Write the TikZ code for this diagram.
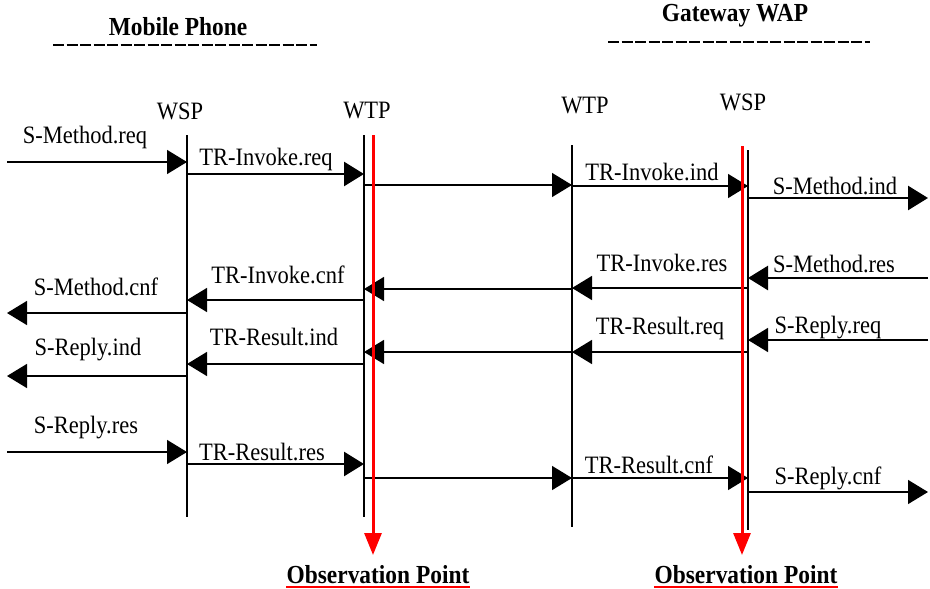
\documentclass[tikz,border=0pt]{standalone}
\usepackage{fontspec}
\setmainfont{Liberation Serif}[FakeStretch=0.9]
\usetikzlibrary{arrows.meta}

\tikzset{
  msg/.style={draw, line width=1.4pt, -{Triangle[length=20pt,width=24pt]}},
  bigmsg/.style={msg, line width=2.6pt},
  life/.style={draw, line width=1.4pt},
  obs/.style={draw=red, line width=3pt, -{Triangle[length=22pt,width=17pt]}},
  lbl/.style={font=\fontsize{25}{28}\selectfont, inner sep=0pt},
  ttl/.style={lbl, font=\fontsize{26}{30}\selectfont\bfseries},
  rule/.style={line width=2.6pt, dash pattern=on 11pt off 2.5pt},
}

\begin{document}
\begin{tikzpicture}[x=1pt,y=-1pt]
	\useasboundingbox (0,0) rectangle (930,589);
	%the two sides, with their rules
	\node[ttl] (mobile) at (178,27) {Mobile Phone};
	\node[ttl] (gateway) at (735,16) {Gateway WAP};
	\draw[rule] (53,45) -- (317,45);
	\draw[rule] (608,42) -- (870,42);
	%%layer names
	\node[lbl] (hmwsp) at (180,111) {WSP};
	\node[lbl] (hmwtp) at (367,111) {WTP};
	\node[lbl] (hgwtp) at (585,106) {WTP};
	\node[lbl] (hgwsp) at (743,102) {WSP};
	%% lifelines and the free ends left and right
	\coordinate (lft) at (7,0);\coordinate (rgt) at (928,0);
	\coordinate (mwsp) at (187,135);\coordinate (mwtp) at (364,135);
	\coordinate (gwtp) at (572,145);\coordinate (gwsp) at (748,150);
	\draw[life] (mwsp) -- ++(0,382);
	\draw[life, line width=2.4pt] (mwtp) -- ++(0,382);
	\draw[life] (gwtp) -- ++(0,382);
	\draw[life] (gwsp) -- ++(0,380);
	%% primitives between the layers
	\foreach \f/\t/\y/\s in {lft/mwsp/162/msg, mwsp/mwtp/174/bigmsg, mwtp/gwtp/185/msg,
		gwtp/gwsp/186/msg, gwsp/rgt/198/bigmsg,
		rgt/gwsp/278/bigmsg, gwsp/gwtp/288/msg, gwtp/mwtp/289/msg, mwtp/mwsp/300/msg, mwsp/lft/313/msg,
		rgt/gwsp/340/msg, gwsp/gwtp/352/msg, gwtp/mwtp/352/msg, mwtp/mwsp/364/msg, mwsp/lft/376/msg,
		lft/mwsp/452/msg, mwsp/mwtp/464/bigmsg, mwtp/gwtp/478/msg, gwtp/gwsp/478/msg, gwsp/rgt/492/msg}{
		\draw[\s] (\f |- 0,\y) -- (\t |- 0,\y);
		}
	\foreach \x/\y/\t [count=\i] in {85/137/S-Method.req, 266/159/TR-Invoke.req, 652/172/TR-Invoke.ind,
		835/186/S-Method.ind, 834/264/S-Method.res, 662/263/TR-Invoke.res, 278/275/TR-Invoke.cnf,
		96/287/S-Method.cnf, 828/328/S-Reply.req, 660/328/TR-Result.req, 274/337/TR-Result.ind,
		88/350/S-Reply.ind, 86/428/S-Reply.res, 262/452/TR-Result.res, 649/465/TR-Result.cnf,
		828/478/S-Reply.cnf}{
		\node[lbl] (p\i) at (\x,\y) {\t};
		}
	%% observation points
	\draw[obs] (373,135) -- (373,555);
	\draw[obs] (742,146) -- (742,555);
	\node[ttl, anchor=base] (obsm) at (378,583) {Observation Point};
	\node[ttl, anchor=base] (obsg) at (746,583) {Observation Point};
	\draw[red, line width=1.5pt] ([yshift=-4pt]obsm.base west) -- ([yshift=-4pt]obsm.base east);
	\draw[red, line width=1.5pt] ([yshift=-4pt]obsg.base west) -- ([yshift=-4pt]obsg.base east);
\end{tikzpicture}
\end{document}
